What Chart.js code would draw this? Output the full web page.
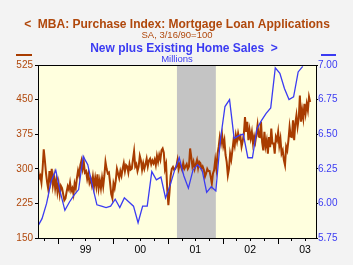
<!DOCTYPE html>
<html>
<head>
<meta charset="utf-8">
<script src="https://cdn.jsdelivr.net/npm/chart.js@4/dist/chart.umd.min.js"></script>
<style>
  body { margin: 0; background: #f3f3f3; }
  canvas { display: block; }
</style>
</head>
<body>
<canvas id="chart" width="353" height="265"></canvas>
<script>
// MBA purchase index, 4 readings per month (roughly weekly), from late Aug 1998
var mba1998 = [300, 280, 285, 270, 300, 342, 318, 290, 270, 255, 295, 275, 300, 265, 283, 258, 276, 250];
var mba1999 = [268, 245, 263, 258, 245, 232, 236, 250, 262, 255, 270, 252, 258, 245, 268, 258,
               280, 296, 285, 308, 318, 300, 315, 292, 295, 278, 290, 270, 278, 265, 283, 262,
               280, 262, 288, 258, 275, 258, 280, 262, 285, 315, 300, 290, 292, 270, 245, 236];
var mba2000 = [268, 258, 275, 300, 290, 280, 295, 285, 300, 312, 295, 308, 305, 292, 310, 298,
               300, 320, 338, 305, 310, 295, 305, 328, 318, 298, 312, 300, 310, 322, 305, 318,
               322, 310, 318, 312, 320, 308, 328, 315, 330, 320, 340, 344, 335, 300, 310, 255];
var mba2001 = [221, 250, 285, 300, 304, 298, 300, 305, 319, 300, 310, 305, 298, 312, 300, 305,
               310, 300, 305, 344, 326, 305, 315, 300, 310, 319, 302, 315, 312, 300, 305, 298,
               283, 290, 300, 295, 295, 283, 268, 290, 297, 319, 300, 333, 348, 369, 355, 373];
var mba2002 = [350, 362, 330, 315, 286, 300, 333, 320, 340, 362, 350, 373, 360, 377, 365, 370,
               348, 360, 375, 412, 380, 402, 362, 384, 366, 380, 355, 370, 358, 375, 395, 370,
               369, 402, 358, 340, 380, 349, 362, 333, 369, 347, 387, 355, 355, 333, 369, 362];
var mba2003 = [380, 350, 365, 333, 340, 319, 308, 348, 340, 362, 391, 370, 369, 405, 362, 398,
               416, 391, 409, 459, 402, 427, 409, 441, 420, 441, 427, 456, 445];
var mbaStart = 1998 + 7 / 12 + 2.5 / 48;

// new plus existing home sales, millions, monthly from Aug 1998
var sales1998 = [5.83, 5.89, 6.00, 6.16, 6.24];
var sales1999 = [6.08, 5.95, 6.01, 6.06, 6.10, 6.34, 6.28, 6.13, 5.99, 5.98, 5.97, 5.98];
var sales2000 = [6.03, 5.97, 6.04, 6.01, 5.98, 5.86, 5.98, 5.98, 6.23, 6.17, 6.19, 6.04];
var sales2001 = [6.13, 6.24, 6.33, 6.20, 6.11, 6.24, 6.28, 6.24, 6.08, 6.12, 6.09, 6.46];
var sales2002 = [6.70, 6.75, 6.47, 6.49, 6.50, 6.33, 6.33, 6.54, 6.60, 6.65, 6.69, 6.98];
var sales2003 = [6.94, 6.83, 6.75, 6.77, 6.95, 6.99];
var salesStart = 1998 + 7.5 / 12;

var leftTicks = [150, 225, 300, 375, 450, 525];
var rightTicks = [5.75, 6.00, 6.25, 6.50, 6.75, 7.00];
var yearLabels = ['99', '00', '01', '02', '03'];
var recession = [2001 + 2 / 12, 2001 + 10.5 / 12];

var brown = '#a83c00';
var brownText = '#b0480c';
var blue = '#3b3bf2';
var fontFam = '"Liberation Sans", Arial, sans-serif';

var mbaAll = [].concat(mba1998, mba1999, mba2000, mba2001, mba2002, mba2003);
var mbaData = mbaAll.map(function(v, i) { return { x: mbaStart + i / 48, y: v }; });
var salesAll = [].concat(sales1998, sales1999, sales2000, sales2001, sales2002, sales2003);
var salesData = salesAll.map(function(v, i) { return { x: salesStart + i / 12, y: v }; });

// backgrounds, recession band, frame, x ticks and the header texts
var decor = {
    id: 'decor',
    beforeDraw: function(chart) {
        var ctx = chart.ctx, a = chart.chartArea, xs = chart.scales.x;
        ctx.save();
        ctx.fillStyle = '#f3f3f3';
        ctx.fillRect(0, 0, chart.width, chart.height);
        ctx.fillStyle = '#ffffde';
        ctx.fillRect(a.left, a.top, a.right - a.left, a.bottom - a.top);
        var r0 = xs.getPixelForValue(recession[0]), r1 = xs.getPixelForValue(recession[1]);
        ctx.fillStyle = '#c4c4c4';
        ctx.fillRect(r0, a.top, r1 - r0, a.bottom - a.top);
        ctx.restore();
    },
    afterDraw: function(chart) {
        var ctx = chart.ctx, a = chart.chartArea, xs = chart.scales.x;
        ctx.save();
        ctx.strokeStyle = '#000';
        ctx.lineWidth = 1;
        ctx.strokeRect(Math.round(a.left) + 0.5, Math.round(a.top) + 0.5,
                       Math.round(a.right - a.left), Math.round(a.bottom - a.top));
        // quarter ticks, longer at year starts
        for (var q = 1998.75; q <= 2003.76; q += 0.25) {
            var px = Math.round(xs.getPixelForValue(q)) + 0.5;
            if (px < a.left || px > a.right) continue;
            var len = Math.abs(q - Math.round(q)) < 0.01 ? 6 : 3;
            ctx.beginPath();
            ctx.moveTo(px, a.bottom);
            ctx.lineTo(px, a.bottom + len);
            ctx.stroke();
        }
        // header
        ctx.textAlign = 'center';
        ctx.textBaseline = 'alphabetic';
        ctx.fillStyle = brownText;
        ctx.font = 'bold 12px ' + fontFam;
        ctx.fillText('<  MBA: Purchase Index: Mortgage Loan Applications', 177, 28);
        ctx.font = '9.5px ' + fontFam;
        ctx.fillText('SA, 3/16/90=100', 177, 38);
        ctx.fillStyle = blue;
        ctx.font = 'bold 12px ' + fontFam;
        ctx.fillText('New plus Existing Home Sales  >', 184, 52);
        ctx.font = '9.5px ' + fontFam;
        ctx.fillText('Millions', 177, 62);
        // little series keys above the axes
        ctx.fillStyle = brown;
        ctx.fillRect(16, 54, 16, 2);
        ctx.fillStyle = blue;
        ctx.fillRect(321, 54, 15, 2);
        ctx.restore();
    }
};

var chartObj = new Chart(document.getElementById('chart'), {
    type: 'line',
    data: {
        datasets: [{
            data: salesData,
            yAxisID: 'y1',
            borderColor: blue,
            borderWidth: 1.3,
            pointRadius: 0,
            fill: false,
            tension: 0
        }, {
            data: mbaData,
            yAxisID: 'y',
            borderColor: brown,
            borderWidth: 2,
            pointRadius: 0,
            fill: false,
            tension: 0
        }]
    },
    options: {
        responsive: false,
        animation: false,
        events: [],
        layout: { padding: { top: 65, left: 0, right: 0, bottom: 0 } },
        plugins: { legend: { display: false }, tooltip: { enabled: false } },
        scales: {
            x: {
                type: 'linear',
                min: 1998.635,
                max: 2003.70,
                grid: { display: false, drawTicks: false },
                border: { display: false },
                afterBuildTicks: function(scale) {
                    scale.ticks = yearLabels.map(function(l, i) { return { value: 1999.5 + i }; });
                },
                afterFit: function(scale) { scale.height = 27; },
                ticks: {
                    autoSkip: false,
                    maxRotation: 0,
                    padding: 6,
                    color: '#000',
                    font: { family: fontFam, size: 10.5 },
                    callback: function(v) { return yearLabels[Math.round(v - 1999.5)]; }
                }
            },
            y: {
                position: 'left',
                min: 150,
                max: 525,
                afterBuildTicks: function(scale) {
                    scale.ticks = leftTicks.map(function(v) { return { value: v }; });
                },
                afterFit: function(scale) { scale.width = 38; },
                grid: { drawOnChartArea: false, tickLength: 3, color: '#000' },
                border: { color: '#000' },
                ticks: { padding: 2, color: brownText, font: { family: fontFam, size: 10 } }
            },
            y1: {
                position: 'right',
                min: 5.75,
                max: 7.00,
                afterBuildTicks: function(scale) {
                    scale.ticks = rightTicks.map(function(v) { return { value: v }; });
                },
                afterFit: function(scale) { scale.width = 37; },
                grid: { drawOnChartArea: false, tickLength: 2, color: '#000' },
                border: { color: '#000' },
                ticks: {
                    padding: 0,
                    color: blue,
                    font: { family: fontFam, size: 10 },
                    callback: function(v) { return v.toFixed(2); }
                }
            }
        }
    },
    plugins: [decor]
});
</script>
</body>
</html>
